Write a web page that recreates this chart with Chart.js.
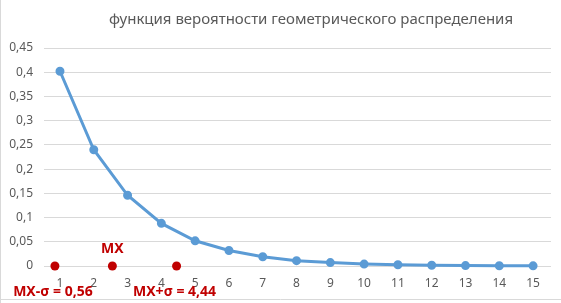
<!DOCTYPE html>
<html><head><meta charset="utf-8">
<script src="https://cdn.jsdelivr.net/npm/chart.js@4/dist/chart.umd.min.js"></script>
<style>html,body{margin:0;padding:0;background:#fff}#wrap{width:561px;height:303px;position:relative}</style>
</head><body><div id="wrap"><canvas id="c" width="561" height="303"></canvas></div>
<script>
const titleText = "функция вероятности геометрического распределения";
const xValues = [1,2,3,4,5,6,7,8,9,10,11,12,13,14,15];
const probValues = [0.402,0.240,0.146,0.088,0.052,0.032,0.019,0.011,0.007,0.004,0.0025,0.0015,0.0009,0.0005,0.0003];
const markerX = [0.85, 2.55, 4.45];
const markerY = [0, 0, 0];
const markerLabels = ["MX-σ = 0,56", "MX", "MX+σ = 4,44"];
const yTicks = [0,0.05,0.1,0.15,0.2,0.25,0.3,0.35,0.4,0.45];

const FONT = "'Noto Sans', 'Open Sans', sans-serif";

const decor = {
  id: 'decor',
  beforeDraw(chart) {
    const ctx = chart.ctx;
    ctx.save();
    ctx.strokeStyle = '#d9d9d9'; ctx.lineWidth = 1;
    ctx.beginPath(); ctx.moveTo(0.5, 0); ctx.lineTo(0.5, 303); ctx.stroke();
    ctx.beginPath(); ctx.moveTo(0, 299.5); ctx.lineTo(561, 299.5); ctx.stroke();
    ctx.restore();
  },
  afterDraw(chart) {
    const ctx = chart.ctx;
    ctx.save();
    ctx.fillStyle = '#595959';
    ctx.font = "15px " + FONT;
    ctx.textAlign = 'center'; ctx.textBaseline = 'middle';
    ctx.fillText(titleText, 311, 20);
    const xs = chart.scales.x, ys = chart.scales.y;
    ctx.fillStyle = '#c00000';
    ctx.font = "bold 14px " + FONT;
    markerLabels.forEach((t, i) => {
      const px = xs.getPixelForValue(markerX[i]);
      const py = ys.getPixelForValue(markerY[i]);
      if (t === "MX") ctx.fillText(t, px, py - 17);
      else ctx.fillText(t, px - 2, py + 26);
    });
    ctx.restore();
  }
};

new Chart(document.getElementById('c'), {
  type: 'scatter',
  data: {
    datasets: [
      {
        data: xValues.map((x, i) => ({x, y: probValues[i]})),
        showLine: true, borderColor: '#5b9bd5', backgroundColor: '#5b9bd5',
        borderWidth: 3, pointRadius: 3, pointHoverRadius: 3, tension: 0, order: 2, clip: false
      },
      {
        data: markerX.map((x, i) => ({x, y: markerY[i]})),
        showLine: false, borderColor: '#c00000', backgroundColor: '#c00000',
        pointRadius: 4.5, borderWidth: 0, order: 1, clip: false
      }
    ]
  },
  options: {
    responsive: false, animation: false,
    layout: { padding: { left: 0, right: 10, top: 48, bottom: 0 } },
    plugins: { legend: { display: false }, tooltip: { enabled: false }, title: { display: false } },
    scales: {
      x: {
        type: 'linear', min: 0.527, max: 15.53,
        afterBuildTicks: s => { s.ticks = xValues.map(v => ({value: v})); },
        afterFit: s => { s.height = 37; },
        grid: { display: false, drawTicks: false },
        border: { display: false },
        ticks: { color: '#595959', font: { family: FONT, size: 12 }, padding: 10, maxRotation: 0, autoSkip: false,
                 callback: v => String(v) }
      },
      y: {
        min: 0, max: 0.45,
        afterBuildTicks: s => { s.ticks = yTicks.map(v => ({value: v})); },
        afterFit: s => { s.width = 44; },
        grid: { color: '#d9d9d9', drawTicks: false, lineWidth: 1 },
        border: { display: false },
        ticks: { color: '#595959', font: { family: FONT, size: 12 }, padding: 11,
                 callback: v => String(Math.round(v * 100) / 100).replace('.', ',') }
      }
    }
  },
  plugins: [decor]
});
</script></body></html>
